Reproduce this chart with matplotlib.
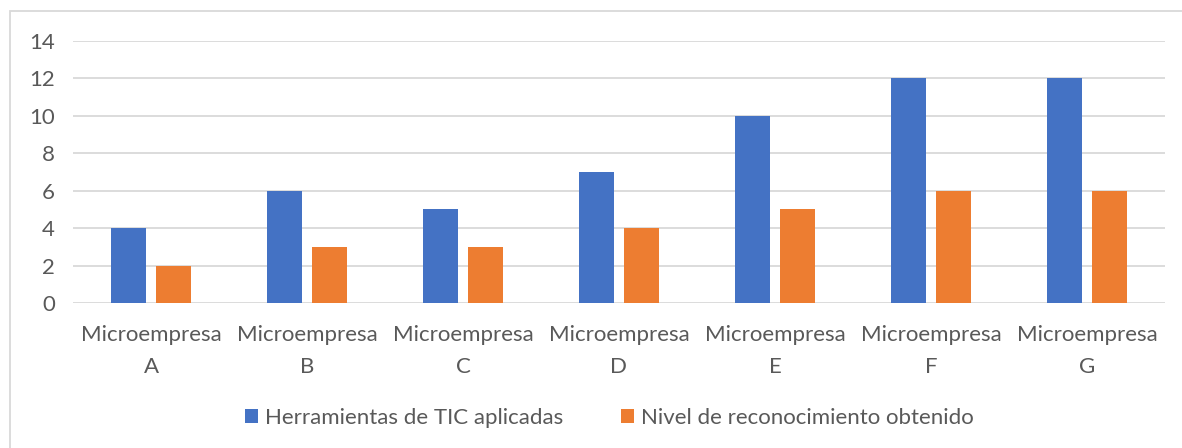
import matplotlib.pyplot as plt
import numpy as np
from matplotlib.patches import Rectangle

categories = ["Microempresa\nA", "Microempresa\nB", "Microempresa\nC", "Microempresa\nD",
              "Microempresa\nE", "Microempresa\nF", "Microempresa\nG"]
herramientas = [4, 6, 5, 7, 10, 12, 12]
nivel = [2, 3, 3, 4, 5, 6, 6]
series_names = ["Herramientas de TIC aplicadas", "Nivel de reconocimiento obtenido"]

plt.rcParams['font.family'] = ['Lato', 'DejaVu Sans']
gray = "#595959"
fs = 16

fig = plt.figure(figsize=(11.82, 4.48), dpi=100)
W, H = 1182, 448
ax = fig.add_axes([73 / W, 1 - 303 / H, (1165 - 73) / W, (303 - 41) / H])

x = np.arange(len(categories))
bw = 0.224
gap = 0.064
ax.bar(x - (bw + gap) / 2, herramientas, bw, color="#4472C4", label=series_names[0], zorder=3)
ax.bar(x + (bw + gap) / 2, nivel, bw, color="#ED7D31", label=series_names[1], zorder=3)

ax.set_xlim(-0.5, len(categories) - 0.5)
ax.set_ylim(0, 14)
ax.set_yticks(range(0, 15, 2))
ax.yaxis.grid(True, color="#d9d9d9", linewidth=1.3, zorder=0)
for s in ax.spines.values():
    s.set_visible(False)
ax.tick_params(length=0)
ax.tick_params(axis='y', pad=13, labelsize=fs, labelcolor=gray)
ax.tick_params(axis='x', pad=16, labelsize=fs, labelcolor=gray)
ax.set_xticks(x)
ax.set_xticklabels(categories, linespacing=1.75)

leg = fig.legend(loc="center", bbox_to_anchor=(609 / W, 1 - 418 / H), ncol=2, frameon=False,
                 fontsize=fs, handlelength=0.6, handleheight=0.6, handletextpad=0.3,
                 columnspacing=2.6, labelcolor=gray)

fig.add_artist(Rectangle((10 / W, -0.1), 1.2, 1 - 11 / H + 0.1, transform=fig.transFigure,
                         fill=False, edgecolor="#d9d9d9", linewidth=1.3))

fig.savefig("out.png", dpi=100)
